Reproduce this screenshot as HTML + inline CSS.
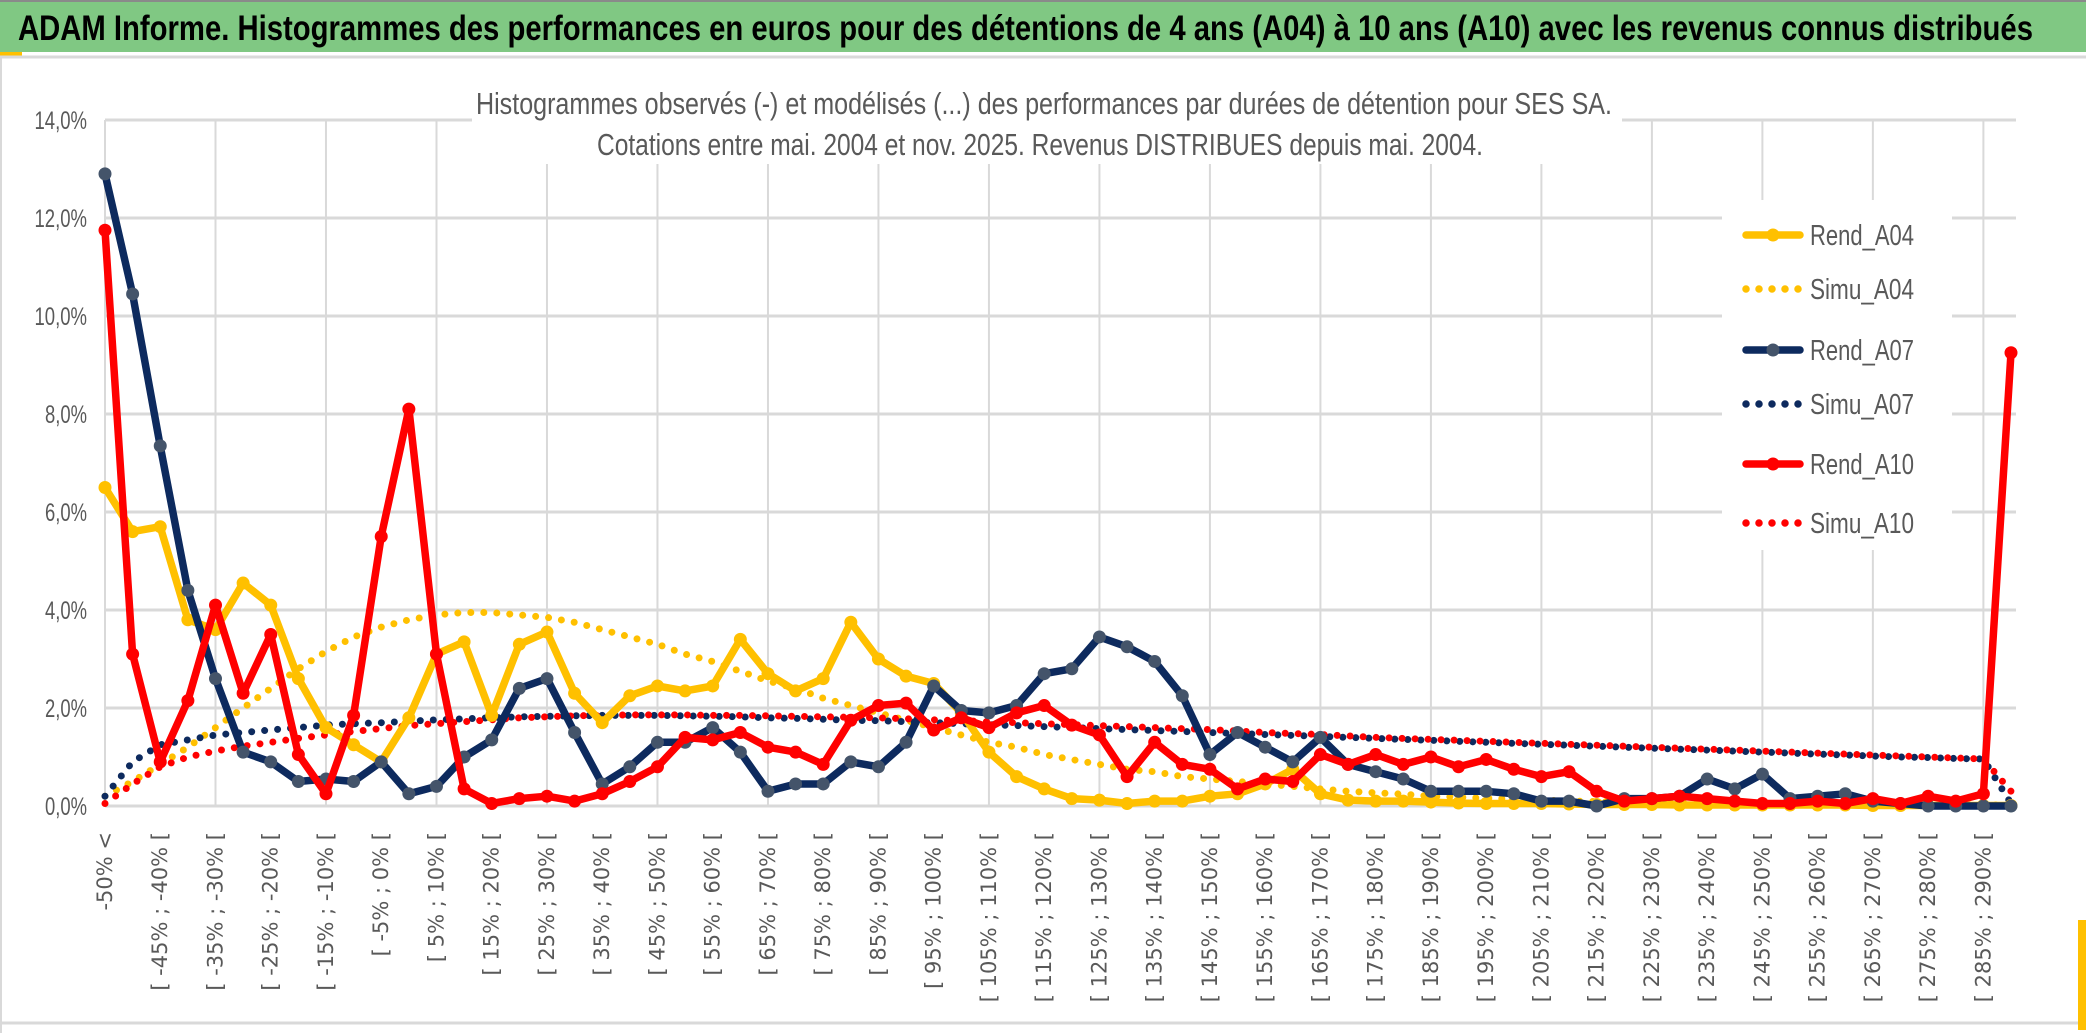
<!DOCTYPE html>
<html><head><meta charset="utf-8">
<style>
html,body{margin:0;padding:0;background:#fff;}
svg{display:block;}
</style></head>
<body>
<svg id="chart" width="2086" height="1033" viewBox="0 0 2086 1033" xmlns="http://www.w3.org/2000/svg">
  <rect x="0" y="0" width="2086" height="1033" fill="#ffffff"/>
  <rect x="0" y="2" width="2086" height="50" fill="#80c883"/>
  <line x1="0" y1="1" x2="2086" y2="1" stroke="#8a8a8a" stroke-width="2"/>
  <rect x="0" y="52" width="22" height="4" fill="#ffc000"/>
  <line x1="0" y1="57" x2="2086" y2="57" stroke="#d9d9d9" stroke-width="3"/>
  <text x="18" y="40" textLength="2015" lengthAdjust="spacingAndGlyphs" font-family="Liberation Sans, sans-serif" font-weight="bold" font-size="35" fill="#000">ADAM Informe. Histogrammes des performances en euros pour des détentions de 4 ans (A04) à 10 ans (A10) avec les revenus connus distribués</text>
  <line x1="0" y1="1023" x2="2086" y2="1023" stroke="#d9d9d9" stroke-width="3"/>
  <line x1="1" y1="57" x2="1" y2="1033" stroke="#d9d9d9" stroke-width="2"/>
  <rect x="2078" y="920" width="8" height="110" fill="#ffc000"/>
  <g id="grid"></g>
  <rect x="472" y="78" width="1150" height="86" fill="#fff"/>
  <text x="1044" y="114" text-anchor="middle" textLength="1136" lengthAdjust="spacingAndGlyphs" font-family="Liberation Sans, sans-serif" font-size="31" fill="#595959">Histogrammes observés (-) et modélisés (...) des performances par durées de détention pour SES SA.</text>
  <text x="1040" y="155" text-anchor="middle" textLength="886" lengthAdjust="spacingAndGlyphs" font-family="Liberation Sans, sans-serif" font-size="31" fill="#595959">Cotations entre mai. 2004 et nov. 2025. Revenus DISTRIBUES depuis mai. 2004.</text>
  <g id="axes"></g>
  <g id="series"></g>
  <g id="legend"></g>
</svg>
<script>
const categories = ["-50% <"];
for (let s = -50; s < 295; s += 5) categories.push("[ " + s + "% ; " + (s + 5) + "% [");
const yTicks = [0, 2, 4, 6, 8, 10, 12, 14];
const yTickLabels = ["0,0%","2,0%","4,0%","6,0%","8,0%","10,0%","12,0%","14,0%"];
const seriesNames = ["Rend_A04","Simu_A04","Rend_A07","Simu_A07","Rend_A10","Simu_A10"];
const rendA04 = [6.5,5.6,5.7,3.8,3.6,4.55,4.1,2.6,1.6,1.25,0.9,1.8,3.1,3.35,1.85,3.3,3.55,2.3,1.7,2.25,2.45,2.35,2.45,3.4,2.7,2.35,2.6,3.75,3.0,2.65,2.5,1.9,1.1,0.6,0.35,0.15,0.12,0.05,0.1,0.1,0.2,0.25,0.45,0.75,0.25,0.12,0.1,0.1,0.08,0.06,0.05,0.05,0.05,0.04,0.03,0.03,0.03,0.02,0.02,0.02,0.02,0.02,0.02,0.02,0.01,0.01,0.01,0.01,0.01,0.01];
const simuA04 = [0.2,0.5,0.85,1.2,1.6,2.0,2.4,2.8,3.15,3.45,3.65,3.8,3.9,3.95,3.95,3.9,3.85,3.75,3.6,3.45,3.3,3.1,2.95,2.75,2.55,2.4,2.2,2.05,1.9,1.75,1.6,1.45,1.3,1.2,1.05,0.95,0.85,0.75,0.7,0.6,0.55,0.5,0.45,0.4,0.35,0.3,0.27,0.24,0.2,0.18,0.16,0.14,0.12,0.1,0.09,0.08,0.07,0.06,0.06,0.05,0.05,0.04,0.04,0.03,0.03,0.03,0.02,0.02,0.02,0.02];
const rendA07 = [12.9,10.45,7.35,4.4,2.6,1.1,0.9,0.5,0.55,0.5,0.9,0.25,0.4,1.0,1.35,2.4,2.6,1.5,0.45,0.8,1.3,1.3,1.6,1.1,0.3,0.45,0.45,0.9,0.8,1.3,2.45,1.95,1.9,2.05,2.7,2.8,3.45,3.25,2.95,2.25,1.05,1.5,1.2,0.9,1.4,0.85,0.7,0.55,0.3,0.3,0.3,0.25,0.1,0.1,0.0,0.15,0.15,0.2,0.55,0.35,0.65,0.15,0.2,0.25,0.1,0.05,0.0,0.0,0.0,0.0];
const simuA07 = [0.2,0.9,1.25,1.35,1.45,1.5,1.55,1.6,1.65,1.68,1.7,1.73,1.76,1.78,1.8,1.82,1.83,1.84,1.85,1.85,1.85,1.84,1.83,1.82,1.8,1.79,1.77,1.75,1.74,1.72,1.7,1.68,1.66,1.64,1.62,1.6,1.58,1.56,1.54,1.52,1.5,1.48,1.46,1.44,1.42,1.4,1.38,1.36,1.34,1.32,1.3,1.28,1.26,1.24,1.22,1.2,1.18,1.16,1.14,1.12,1.1,1.08,1.06,1.04,1.02,1.0,0.99,0.97,0.96,0.05];
const rendA10 = [11.75,3.1,0.9,2.15,4.1,2.3,3.5,1.05,0.25,1.85,5.5,8.1,3.1,0.35,0.05,0.15,0.2,0.1,0.25,0.5,0.8,1.4,1.35,1.5,1.2,1.1,0.85,1.75,2.05,2.1,1.55,1.8,1.6,1.9,2.05,1.65,1.45,0.6,1.3,0.85,0.75,0.35,0.55,0.5,1.05,0.85,1.05,0.85,1.0,0.8,0.95,0.75,0.6,0.7,0.3,0.1,0.15,0.2,0.15,0.1,0.05,0.05,0.1,0.05,0.15,0.05,0.2,0.1,0.25,9.25];
const simuA10 = [0.05,0.45,0.8,1.0,1.12,1.22,1.3,1.38,1.45,1.52,1.58,1.64,1.68,1.72,1.76,1.8,1.82,1.84,1.85,1.86,1.86,1.86,1.85,1.85,1.84,1.83,1.82,1.81,1.8,1.78,1.76,1.74,1.72,1.7,1.68,1.66,1.64,1.62,1.6,1.58,1.56,1.53,1.5,1.48,1.46,1.43,1.4,1.38,1.36,1.34,1.32,1.3,1.28,1.26,1.24,1.22,1.2,1.18,1.16,1.14,1.12,1.1,1.08,1.06,1.04,1.02,1.0,0.98,0.96,0.3];

const NS = "http://www.w3.org/2000/svg";
const X0 = 105, X1 = 2011, Y0 = 806, Y14 = 120;
function xPos(i){ return X0 + i * (X1 - X0) / (categories.length - 1); }
function yPos(v){ return Y0 - v * (Y0 - Y14) / 14; }
function mk(tag, attrs, parent){ const e = document.createElementNS(NS, tag); for (const k in attrs) e.setAttribute(k, attrs[k]); parent.appendChild(e); return e; }

const grid = document.getElementById("grid");
for (let i = 0; i < categories.length; i += 4) {
  const l = mk("line", {x1: xPos(i), x2: xPos(i), y1: Y14, y2: Y0, stroke: "#d9d9d9", "stroke-width": 2}, grid);
  
  
}
yTicks.forEach((t) => {
  const l = mk("line", {x1: X0, x2: X1 + 5, y1: yPos(t), y2: yPos(t), stroke: "#d9d9d9", "stroke-width": 3}, grid);
  
  
});

const axes = document.getElementById("axes");
yTicks.forEach((t, k) => {
  const tx = mk("text", {x: 87, y: yPos(t) + 9, "text-anchor": "end", "font-family": "Liberation Sans, sans-serif", "font-size": 25, fill: "#595959", textLength: yTickLabels[k].length * 10.5, lengthAdjust: "spacingAndGlyphs"}, axes);
  tx.textContent = yTickLabels[k];
  
  
});
for (let i = 0; i < categories.length; i += 2) {
  const x = xPos(i) + 7, y = 832;
  const tx = mk("text", {x: x, y: y, transform: "rotate(-90 " + x + " " + y + ")", "text-anchor": "end", "font-family": "DejaVu Sans, sans-serif", "font-size": 21, fill: "#595959"}, axes);
  tx.textContent = categories[i];
  
  
}

const series = document.getElementById("series");
const styles = [
  {data: simuA04, color: "#ffc000", dotted: true},
  {data: simuA07, color: "#0d2a5e", dotted: true},
  {data: simuA10, color: "#ff0000", dotted: true},
  {data: rendA04, color: "#ffc000", dotted: false, marker: "#ffc000"},
  {data: rendA07, color: "#0d2a5e", dotted: false, marker: "#44546a"},
  {data: rendA10, color: "#ff0000", dotted: false, marker: "#ff0000"}
];
const names = ["simu-a04-line","simu-a07-line","simu-a10-line","rend-a04-line","rend-a07-line","rend-a10-line"];
styles.forEach((s, k) => {
  const pts = s.data.map((v, i) => xPos(i).toFixed(1) + "," + yPos(v).toFixed(1)).join(" ");
  const pl = mk("polyline", {points: pts, fill: "none", stroke: s.color, "stroke-width": s.dotted ? 7 : 7.5, "stroke-linejoin": "round", "stroke-linecap": "round"}, series);
  if (s.dotted) pl.setAttribute("stroke-dasharray", "0 13");
  
  
  if (!s.dotted) {
    s.data.forEach((v, i) => {
      const c = mk("circle", {cx: xPos(i), cy: yPos(v), r: 6.5, fill: s.marker}, series);
      
      
    });
  }
});

const legend = document.getElementById("legend");
const lb = mk("rect", {x: 1722, y: 200, width: 230, height: 350, fill: "#fff"}, legend);


const legendColors = ["#ffc000","#ffc000","#0d2a5e","#0d2a5e","#ff0000","#ff0000"];
const legendDotted = [false,true,false,true,false,true];
const legendY = [235, 289, 350, 404, 464, 523];
seriesNames.forEach((n, k) => {
  const g = mk("g", {}, legend);
  
  
  const y = legendY[k];
  const l = mk("line", {x1: 1746, x2: 1800, y1: y, y2: y, stroke: legendColors[k], "stroke-width": 7.5, "stroke-linecap": "round"}, g);
  if (legendDotted[k]) l.setAttribute("stroke-dasharray", "0 13");
  if (!legendDotted[k]) mk("circle", {cx: 1773, cy: y, r: 6.5, fill: k === 2 ? "#44546a" : legendColors[k]}, g);
  const t = mk("text", {x: 1810, y: y + 10, "font-family": "Liberation Sans, sans-serif", "font-size": 29, fill: "#595959", textLength: 104, lengthAdjust: "spacingAndGlyphs"}, g);
  t.textContent = n;
});
</script>
</body></html>
